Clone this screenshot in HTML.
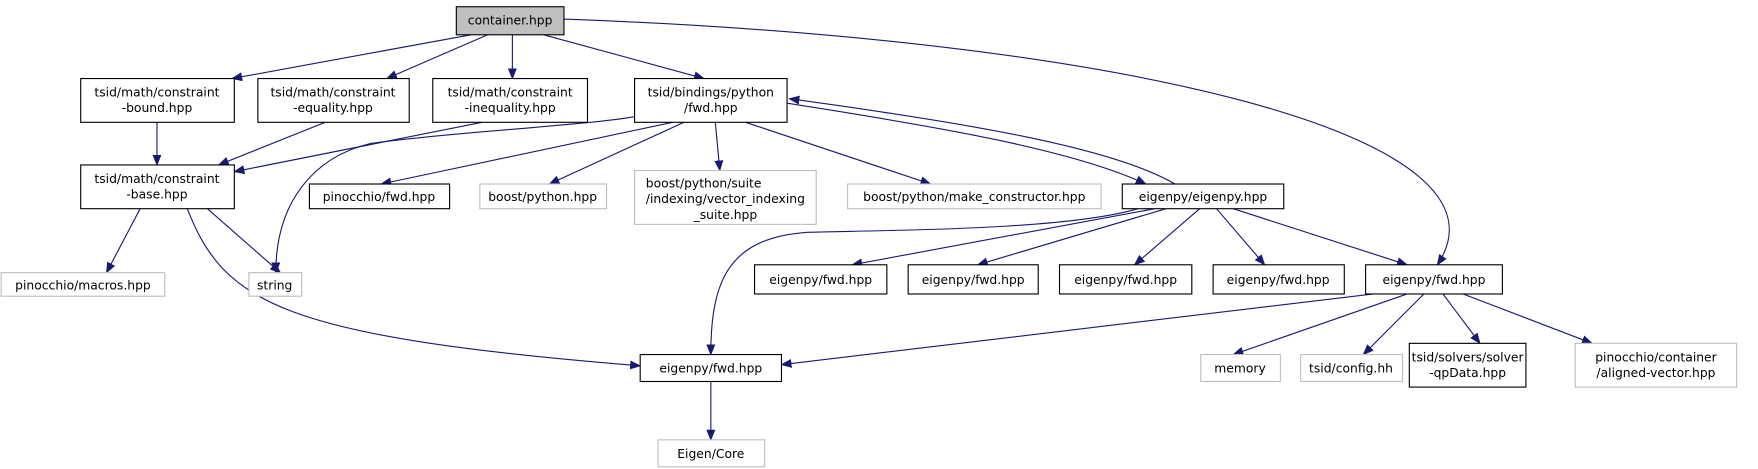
<!DOCTYPE html>
<html><head><meta charset="utf-8"><style>
html,body{margin:0;padding:0;background:#fff;}
svg{display:block;}
text{font-family:"DejaVu Sans","Liberation Sans",sans-serif;font-size:11px;fill:#000;text-anchor:middle;}
.n{fill:#fff;stroke:#000;stroke-width:1;}
.g{fill:#fff;stroke:#bfbfbf;stroke-width:1;}
.e{fill:none;stroke:#191970;stroke-width:1;marker-end:url(#a);}
</style></head><body>
<svg width="1758" height="469" viewBox="0 0 1568 418" preserveAspectRatio="none" xmlns="http://www.w3.org/2000/svg">
<defs><marker id="a" markerUnits="userSpaceOnUse" markerWidth="10" markerHeight="8" refX="9" refY="4" orient="auto"><path d="M0,0 L10,4 L0,8 z" fill="#191970"/></marker></defs>

<!-- edges -->
<path class="e" d="M420,31 L207,70"/>
<path class="e" d="M435,31 L345,70"/>
<path class="e" d="M457,31 L457,70"/>
<path class="e" d="M485,31 L628,70"/>
<path class="e" d="M503,17 C1000,35 1360,120 1282,236"/>
<path class="e" d="M140,109 L140,147"/>
<path class="e" d="M290,109 L195,147"/>
<path class="e" d="M430,109 L209,153"/>
<path class="e" d="M566,104 C520,112 400,118 330,128 C280,140 246,180 246,243"/>
<path class="e" d="M125,186 L95,243"/>
<path class="e" d="M185,186 L250,243"/>
<path class="e" d="M167,186 C200,270 250,300 571,326"/>
<path class="e" d="M600,109 L340,164"/>
<path class="e" d="M610,109 L490,164"/>
<path class="e" d="M638,109 L642,152"/>
<path class="e" d="M665,109 L830,164"/>
<path class="e" d="M702,92 C850,115 960,135 1022,164"/>
<path class="e" d="M1048,164 C990,130 850,108 704,88"/>
<path class="e" d="M1015,186 C950,205 800,205 720,207 C650,212 634,250 634,316"/>
<path class="e" d="M1030,186 L760,236"/>
<path class="e" d="M1040,186 L872,236"/>
<path class="e" d="M1070,186 L1012,236"/>
<path class="e" d="M1085,186 L1128,236"/>
<path class="e" d="M1100,186 L1255,236"/>
<path class="e" d="M1225,262 L697,325"/>
<path class="e" d="M1255,262 L1100,316"/>
<path class="e" d="M1270,262 L1216,316"/>
<path class="e" d="M1287,262 L1320,306"/>
<path class="e" d="M1305,262 L1420,306"/>
<path class="e" d="M634,340 L634,392"/>

<!-- nodes -->
<rect x="407" y="6" width="96" height="25" fill="#bfbfbf" stroke="#000"/>
<text x="455" y="22">container.hpp</text>

<rect class="n" x="72" y="70" width="137" height="39"/>
<text x="140" y="86">tsid/math/constraint</text><text x="140" y="100">-bound.hpp</text>
<rect class="n" x="230" y="70" width="135" height="39"/>
<text x="297" y="86">tsid/math/constraint</text><text x="297" y="100">-equality.hpp</text>
<rect class="n" x="386" y="70" width="138" height="39"/>
<text x="455" y="86">tsid/math/constraint</text><text x="455" y="100">-inequality.hpp</text>
<rect class="n" x="566" y="70" width="136" height="39"/>
<text x="634" y="86">tsid/bindings/python</text><text x="634" y="100">/fwd.hpp</text>

<rect class="n" x="72" y="147" width="137" height="39"/>
<text x="140" y="163">tsid/math/constraint</text><text x="140" y="177">-base.hpp</text>
<rect class="n" x="276" y="164" width="125" height="22"/>
<text x="338" y="179">pinocchio/fwd.hpp</text>
<rect class="g" x="428" y="164" width="113" height="22"/>
<text x="484" y="179">boost/python.hpp</text>
<rect class="g" x="566" y="152" width="162" height="48"/>
<text x="576" y="167" style="text-anchor:start">boost/python/suite</text>
<text x="576" y="181" style="text-anchor:start">/indexing/vector_indexing</text>
<text x="647" y="195">_suite.hpp</text>
<rect class="g" x="756" y="164" width="226" height="22"/>
<text x="869" y="179">boost/python/make_constructor.hpp</text>
<rect class="n" x="1001" y="164" width="144" height="22"/>
<text x="1073" y="179">eigenpy/eigenpy.hpp</text>

<rect class="g" x="1" y="243" width="146" height="21"/>
<text x="74" y="258">pinocchio/macros.hpp</text>
<rect class="g" x="222" y="243" width="47" height="21"/>
<text x="245" y="258">string</text>

<rect class="n" x="673" y="236" width="118" height="26"/><text x="732" y="253">eigenpy/fwd.hpp</text>
<rect class="n" x="810" y="236" width="116" height="26"/><text x="868" y="253">eigenpy/fwd.hpp</text>
<rect class="n" x="945" y="236" width="118" height="26"/><text x="1004" y="253">eigenpy/fwd.hpp</text>
<rect class="n" x="1082" y="236" width="117" height="26"/><text x="1140" y="253">eigenpy/fwd.hpp</text>
<rect class="n" x="1218" y="236" width="122" height="26"/><text x="1279" y="253">eigenpy/fwd.hpp</text>

<rect class="n" x="571" y="316" width="126" height="24"/><text x="634" y="332">eigenpy/fwd.hpp</text>
<rect class="g" x="1071" y="316" width="71" height="24"/><text x="1106" y="332">memory</text>
<rect class="g" x="1160" y="316" width="91" height="24"/><text x="1205" y="332">tsid/config.hh</text>
<rect class="n" x="1257" y="306" width="104" height="39"/>
<text x="1309" y="322">tsid/solvers/solver</text><text x="1309" y="336">-qpData.hpp</text>
<rect class="g" x="1405" y="306" width="144" height="39"/>
<text x="1477" y="322">pinocchio/container</text><text x="1477" y="336">/aligned-vector.hpp</text>

<rect class="g" x="587" y="392" width="95" height="24"/><text x="634" y="408">Eigen/Core</text>
</svg>
</body></html>
